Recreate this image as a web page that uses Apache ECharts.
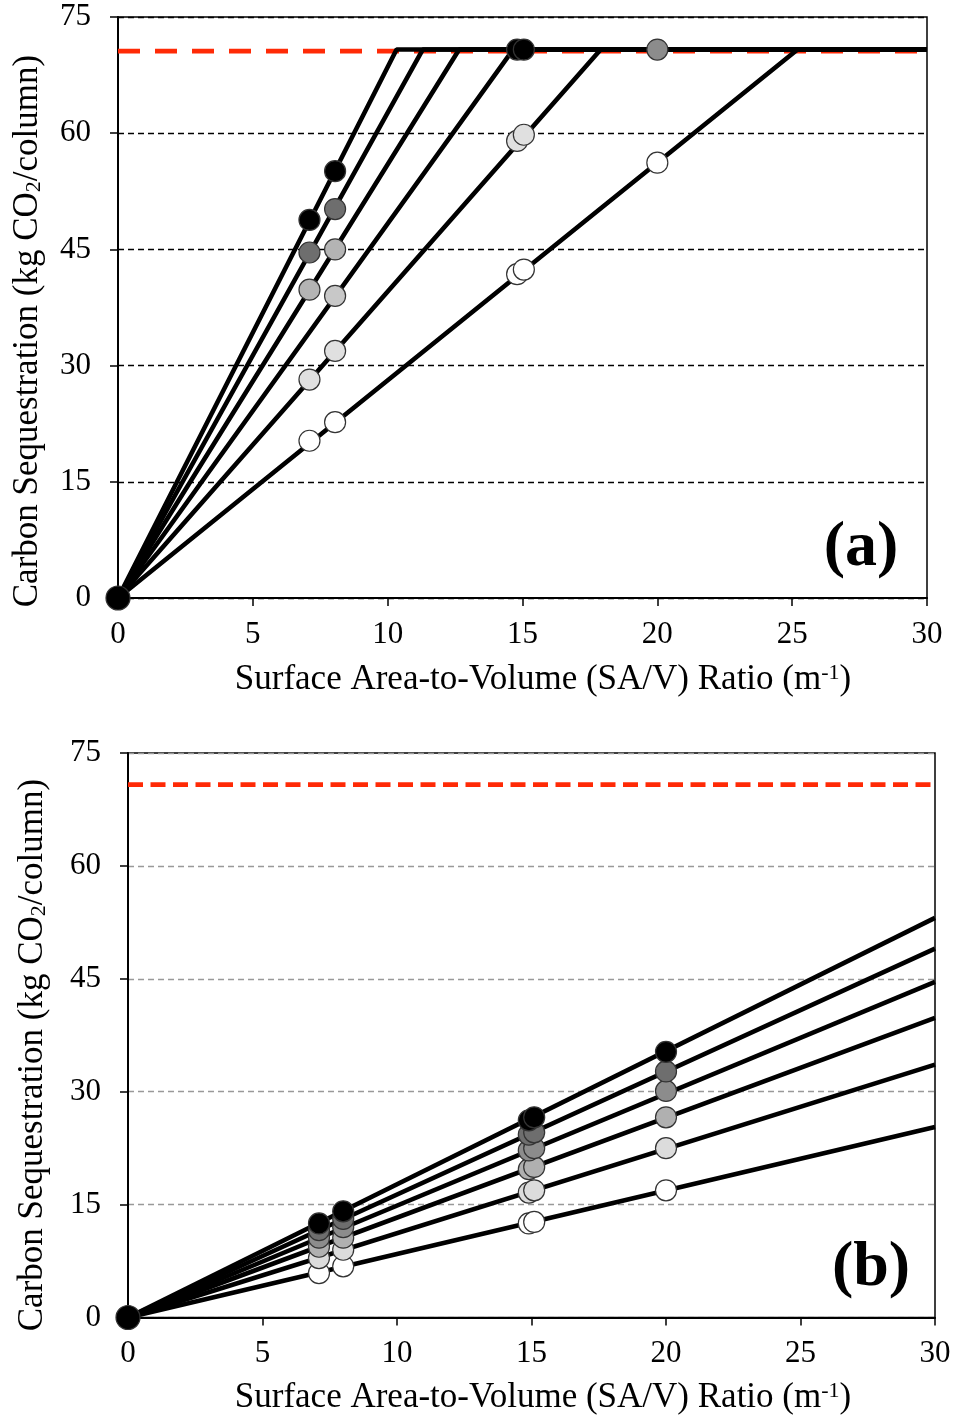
<!DOCTYPE html>
<html>
<head>
<meta charset="utf-8">
<script src="https://cdn.jsdelivr.net/npm/echarts@6/dist/echarts.min.js"></script>
<style>
html,body{margin:0;padding:0;background:#fff;}
#c{width:954px;height:1421px;}
</style>
</head>
<body>
<div id="c"></div>
<script>
// ---------- DATA ----------
const xTicks = [0, 5, 10, 15, 20, 25, 30];
const yTicks = [0, 15, 30, 45, 60, 75];
const capacityA = 70.6;         // red dashed limit (a)
const capacityB = 70.8;         // red dashed limit (b)

// (a) model lines: origin -> saturation point -> x = 30
const lineA1 = [[0, 0], [10.33, 70.8], [30, 70.8]];
const lineA2 = [[0, 0], [11.3, 70.8], [30, 70.8]];
const lineA3 = [[0, 0], [12.65, 70.8], [30, 70.8]];
const lineA4 = [[0, 0], [14.65, 70.8], [30, 70.8]];
const lineA5 = [[0, 0], [17.9, 70.8], [30, 70.8]];
const lineA6 = [[0, 0], [25.2, 70.8], [30, 70.8]];

// (a) measured points
const ptsA1 = [[7.1, 48.8], [8.05, 55.1], [14.8, 70.8], [15.05, 70.8]];
const ptsA2 = [[7.1, 44.6], [8.05, 50.2]];
const ptsA3 = [[7.1, 39.8], [8.05, 45.0]];
const ptsA4 = [[8.05, 39.0]];
const ptsA5 = [[7.1, 28.2], [8.05, 31.9], [14.8, 59.0], [15.05, 59.8]];
const ptsA6 = [[7.1, 20.3], [8.05, 22.7], [14.8, 41.8], [15.05, 42.4], [20, 56.2]];
const ptsA7 = [[20, 70.8]];

// (b) model lines: origin -> x = 30
const lineB1 = [[0, 0], [30, 53.1]];
const lineB2 = [[0, 0], [30, 49.0]];
const lineB3 = [[0, 0], [30, 44.6]];
const lineB4 = [[0, 0], [30, 39.8]];
const lineB5 = [[0, 0], [30, 33.6]];
const lineB6 = [[0, 0], [30, 25.3]];

// (b) measured points
const ptsB1 = [[7.1, 12.5], [8.0, 14.1], [14.9, 26.2], [15.1, 26.6], [20, 35.3]];
const ptsB2 = [[7.1, 11.6], [8.0, 13.1], [14.9, 24.3], [15.1, 24.6], [20, 32.7]];
const ptsB3 = [[7.1, 10.6], [8.0, 12.0], [14.9, 22.2], [15.1, 22.5], [20, 30.1]];
const ptsB4 = [[7.1, 9.4], [8.0, 10.6], [14.9, 19.7], [15.1, 20.0], [20, 26.6]];
const ptsB5 = [[7.1, 7.9], [8.0, 9.0], [14.9, 16.6], [15.1, 16.9], [20, 22.5]];
const ptsB6 = [[7.1, 5.9], [8.0, 6.8], [14.9, 12.5], [15.1, 12.7], [20, 16.9]];

const origin = [[0, 0]];

const colorsA = ['#000000', '#6e6e6e', '#b4b4b4', '#c8c8c8', '#e0e0e0', '#ffffff', '#8c8c8c'];
const colorsB = ['#000000', '#6e6e6e', '#8c8c8c', '#b0b0b0', '#dcdcdc', '#ffffff'];

// ---------- CHART ----------
const FONT = '"Liberation Serif", "Times New Roman", serif';
const chart = echarts.init(document.getElementById('c'), null, {renderer: 'canvas'});

function xAxisDef(idx) {
  return {
    gridIndex: idx, type: 'value', min: 0, max: 30, interval: 5,
    axisLine: {show: true, onZero: false, lineStyle: {color: '#000', width: 2}},
    axisTick: {show: true, length: 8, inside: false, lineStyle: {color: '#000', width: 1.5}},
    axisLabel: {fontFamily: FONT, fontSize: 31, color: '#000', margin: 21,
      formatter: v => xTicks.includes(v) ? String(v) : ''},
    splitLine: {show: false}
  };
}
function yAxisDef(idx, gridColor) {
  return {
    gridIndex: idx, type: 'value', min: 0, max: 75, interval: 15,
    axisLine: {show: true, onZero: false, lineStyle: {color: '#000', width: 2}},
    axisTick: {show: true, length: 8, inside: false, lineStyle: {color: '#000', width: 1.5}},
    axisLabel: {fontFamily: FONT, fontSize: 31, color: '#000', margin: 27,
      formatter: v => yTicks.includes(v) ? String(v) : ''},
    splitLine: {show: true, lineStyle: {color: gridColor, width: 1.3, type: [6, 4]}}
  };
}

const series = [];
function addLine(xi, data) {
  series.push({type: 'line', xAxisIndex: xi, yAxisIndex: xi, data: data, showSymbol: false,
    symbol: 'none', lineStyle: {color: '#000', width: 4.6}, z: 4, silent: true, clip: true,
    animation: false});
}
function addPts(xi, data, color, size) {
  series.push({type: 'scatter', xAxisIndex: xi, yAxisIndex: xi, data: data, symbolSize: size || 21,
    itemStyle: {color: color, borderColor: '#333', borderWidth: 1.2, opacity: 1}, z: 6, clip: false,
    animation: false, silent: true});
}

// red limits
series.push({type: 'line', xAxisIndex: 0, yAxisIndex: 0, data: [[0, capacityA], [30, capacityA]],
  symbol: 'none', lineStyle: {color: '#ff2a06', width: 4.8, type: [22, 15]}, z: 3, animation: false});
series.push({type: 'line', xAxisIndex: 1, yAxisIndex: 1, data: [[0, capacityB], [30, capacityB]],
  symbol: 'none', lineStyle: {color: '#ff2a06', width: 4.8, type: [15, 7.5]}, z: 3, animation: false});

[lineA1, lineA2, lineA3, lineA4, lineA5, lineA6].forEach(d => addLine(0, d));
[lineB1, lineB2, lineB3, lineB4, lineB5, lineB6].forEach(d => addLine(1, d));

[ptsA7, ptsA6, ptsA5, ptsA4, ptsA3, ptsA2, ptsA1].forEach((d, i) => addPts(0, d, colorsA[6 - i]));
[ptsB6, ptsB5, ptsB4, ptsB3, ptsB2, ptsB1].forEach((d, i) => addPts(1, d, colorsB[5 - i]));
addPts(0, origin, '#000', 24);
addPts(1, origin, '#000', 24);

const richTitle = {
  sub: {fontFamily: FONT, fontSize: 22, lineHeight: 12, verticalAlign: 'bottom', fill: '#000'},
  sup: {fontFamily: FONT, fontSize: 22, lineHeight: 10, verticalAlign: 'top', fill: '#000'}
};

function yTitle(x, y) {
  return {type: 'text', x: x, y: y, rotation: Math.PI / 2, z: 10,
    style: {text: 'Carbon Sequestration (kg CO{sub|2}/column)', fontFamily: FONT, fontSize: 35,
      lineHeight: 35, fill: '#000', align: 'center', verticalAlign: 'middle', rich: richTitle}};
}
function xTitle(x, y) {
  return {type: 'text', x: x, y: y, z: 10,
    style: {text: 'Surface Area-to-Volume (SA/V) Ratio (m{sup|-1})', fontFamily: FONT, fontSize: 35,
      lineHeight: 35, fill: '#000', align: 'center', verticalAlign: 'middle', rich: richTitle}};
}
function panel(t, x, y) {
  return {type: 'text', x: x, y: y, z: 10,
    style: {text: t, fontFamily: FONT, fontSize: 64, fontWeight: 'bold', fill: '#000',
      align: 'center', verticalAlign: 'middle'}};
}

chart.setOption({
  backgroundColor: '#fff',
  animation: false,
  grid: [
    {left: 118, top: 17, width: 809, height: 581, show: true, borderColor: '#000', borderWidth: 1.5,
      backgroundColor: 'transparent', containLabel: false},
    {left: 128, top: 753, width: 807, height: 564.5, show: true, borderColor: '#000', borderWidth: 1.5,
      backgroundColor: 'transparent', containLabel: false}
  ],
  xAxis: [xAxisDef(0), xAxisDef(1)],
  yAxis: [yAxisDef(0, '#000'), yAxisDef(1, '#999')],
  series: series,
  graphic: [
    yTitle(28, 331), yTitle(33, 1055),
    xTitle(543, 680), xTitle(543, 1398),
    panel('(a)', 861, 548), panel('(b)', 871, 1268)
  ]
});
</script>
</body>
</html>
